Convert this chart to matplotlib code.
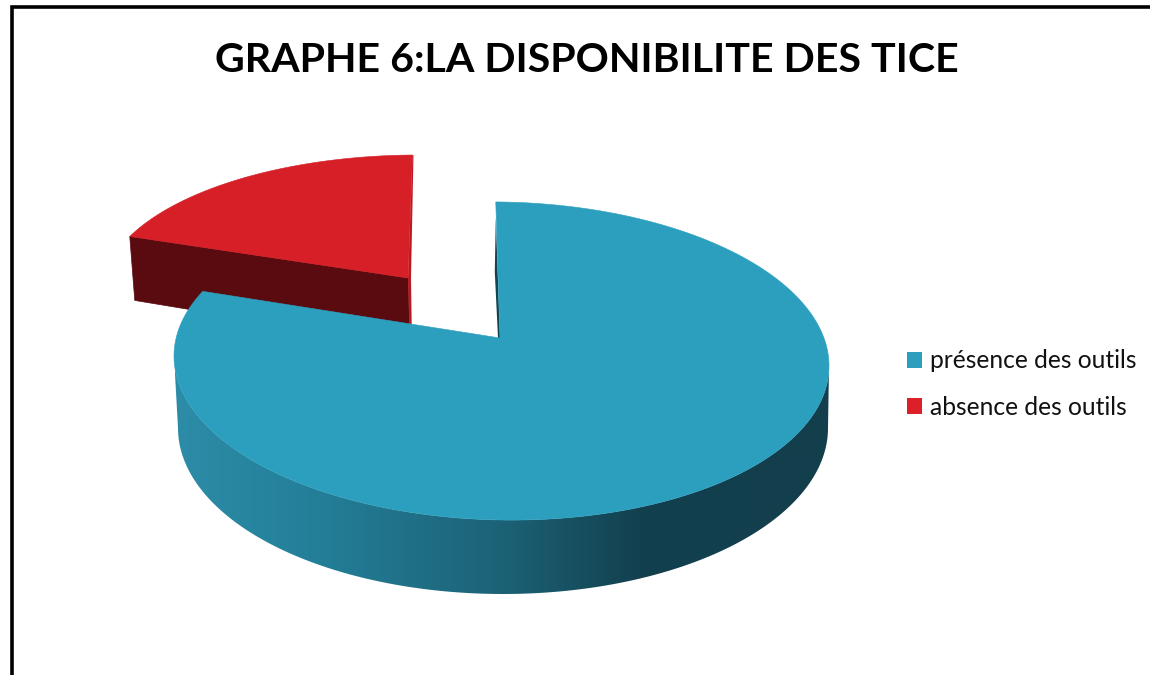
'''
3D style pie chart: la disponibilite des TICE
'''
import numpy as np
from matplotlib import pyplot as plt
from matplotlib.colors import LinearSegmentedColormap
from matplotlib.patches import Patch, Polygon

# Data
labels = ["présence des outils", "absence des outils"]
values = [82, 18]
title = "GRAPHE 6:LA DISPONIBILITE DES TICE"

# Colours
BLUE = "#2d9fbe"
RED = "#d71f27"
RED_WALL = "#590b10"
BLUE_SLIVER = "#124552"
RED_SLIVER = "#b81a22"
wall_cmap = LinearSegmentedColormap.from_list(
    "wall", [(0, "#2d8ca8"), (0.2, "#24809a"), (0.5, "#1c6276"),
             (0.72, "#123f4d"), (1, "#143f4d")])

plt.rcParams['font.family'] = ['Lato', 'DejaVu Sans']

START_ANGLE = -1


def rim(center, radii, angles, tilt=0.0):
    '''Points of an ellipse, angles in degrees clockwise from the top'''
    rad = np.radians(angles)
    x_pos = radii[0] * np.sin(rad)
    return np.column_stack((center[0] + x_pos,
                            center[1] - radii[1] * np.cos(rad) + tilt * x_pos))


def slice_angles(first, last, step=0.5):
    '''Angles along an arc'''
    return np.linspace(first, last, int((last - first) / step) + 2)


fig = plt.figure(figsize=(11.5, 6.75), dpi=100)
ax = fig.add_axes([0, 0, 1, 1])
ax.axis('off')

# Frame of the picture (top and left only)
ax.plot([11.5, 11.5, 1150], [675, 7, 7], color="black", lw=2.6,
        solid_joinstyle='miter')

sweep = np.array(values) / sum(values) * 360
blue_end = START_ANGLE + sweep[0]
red_end = blue_end + sweep[1]

# Exploded red slice, drawn first because the blue one covers it
red_c, red_r, red_apex = (418, 293), (316, 138), np.array([408, 278])
red_offset = np.array([5, 64])
red_bottom_offset = np.array([2, 68])
red_arc = rim(red_c, red_r, slice_angles(blue_end, red_end))
ax.add_patch(Polygon([red_arc[0], red_apex, red_apex + red_bottom_offset,
                      red_arc[0] + red_offset], closed=True,
                     fc=RED_WALL, ec=RED_WALL, lw=0.5))
ax.add_patch(Polygon([red_arc[-1], red_apex + [0, 1], red_apex + red_bottom_offset,
                      red_apex + red_bottom_offset + [2, 0], red_apex + [3, 0],
                      red_arc[-1] + [1, 0]],
                     closed=True, fc=RED_SLIVER, ec="none"))
ax.add_patch(Polygon(np.vstack((red_arc, red_apex)), closed=True,
                     fc=RED, ec=RED, lw=0.4))

# Blue slice: side wall is a horizontal gradient clipped to the wall outline
blue_c, blue_r, blue_apex = (501.5, 361), (327.5, 159), np.array([500, 338])
BLUE_TILT = 0.015
low_c, low_r = (503, 428), (325, 166)
wall_angles = slice_angles(90, 270, 0.4)
upper = rim(blue_c, blue_r, wall_angles, BLUE_TILT)
lower = rim(low_c, low_r, wall_angles)
wall = Polygon(np.vstack((upper, lower[::-1])), closed=True, fc="none", ec="none")
ax.add_patch(wall)
gradient = ax.imshow(np.linspace(0, 1, 512).reshape(1, -1), cmap=wall_cmap,
                     extent=(175, 830, 620, 300), aspect='auto')
gradient.set_clip_path(wall)

blue_arc = rim(blue_c, blue_r, slice_angles(START_ANGLE, blue_end), BLUE_TILT)
ax.add_patch(Polygon([blue_arc[0] + [0, 15], blue_apex, blue_apex + [-2, 0],
                      blue_arc[0] + [-1, 70]], closed=True,
                     fc=BLUE_SLIVER, ec="none"))
ax.add_patch(Polygon(np.vstack((blue_arc, blue_apex)), closed=True,
                     fc=BLUE, ec=BLUE, lw=0.4))

ax.set_xlim(0, 1150)
ax.set_ylim(675, 0)

# Title and legend
ax.text(587, 61, title, ha='center', va='center', fontsize=29.6,
        fontweight='bold', color="black")
handles = [Patch(fc=BLUE, ec="none"), Patch(fc="#dc1f28", ec="none")]
ax.legend(handles, labels, loc='center left', bbox_to_anchor=(0.7886, 0.431),
          frameon=False, fontsize=17.7, handlelength=0.62, handleheight=0.62,
          handletextpad=0.32, labelspacing=0.95, labelcolor="#111111",
          borderpad=0, borderaxespad=0)

fig.savefig("out.png", dpi=100)
